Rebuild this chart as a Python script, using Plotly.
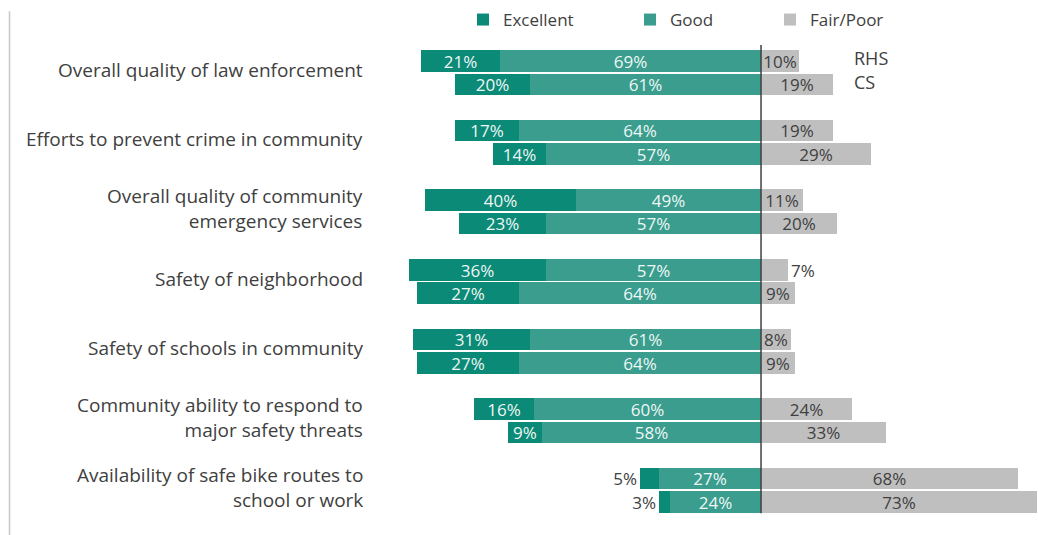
import plotly.graph_objects as go

categories = [
    "Overall quality of law enforcement",
    "Efforts to prevent crime in community",
    "Overall quality of community<br>emergency services",
    "Safety of neighborhood",
    "Safety of schools in community",
    "Community ability to respond to<br>major safety threats",
    "Availability of safe bike routes to<br>school or work",
]
series_names = ["RHS", "CS"]

excellent_rhs = [21, 17, 40, 36, 31, 16, 5]
good_rhs = [69, 64, 49, 57, 61, 60, 27]
fair_rhs = [10, 19, 11, 7, 8, 24, 68]

excellent_cs = [20, 14, 23, 27, 27, 9, 3]
good_cs = [61, 57, 57, 64, 64, 58, 24]
fair_cs = [19, 29, 20, 9, 9, 33, 73]

C_EXC = "#0b8a77"
C_GOOD = "#3a9d8e"
C_FAIR = "#bfbfbf"
TXT = "#404040"
FONT = "Open Sans"

W, H = 1038, 535
ML, MR, MT, MB = 383, 1, 35, 10
PW, PH = W - ML - MR, H - MT - MB

OFF = 0.169
BW = 0.31

n = len(categories)
y_rhs = [i - OFF for i in range(n)]
y_cs = [i + OFF for i in range(n)]

ys = y_rhs + y_cs
exc = excellent_rhs + excellent_cs
good = good_rhs + good_cs
fair = fair_rhs + fair_cs

def pct(v):
    return [f"{x}%" for x in v]

fig = go.Figure()

# Good first (closest to zero on negative side)
fig.add_trace(go.Bar(
    y=ys, x=[-v for v in good], orientation="h", name="Good",
    marker=dict(color=C_GOOD, line=dict(width=0)), width=BW,
    text=pct(good), textposition="inside", insidetextanchor="middle",
    insidetextfont=dict(color="#eef7f5", size=17, family=FONT),
    constraintext="none", legend="legend2", hoverinfo="skip",
))
fig.add_trace(go.Bar(
    y=ys, x=[-v for v in exc], orientation="h", name="Excellent",
    marker=dict(color=C_EXC, line=dict(width=0)), width=BW,
    text=pct(exc),
    textposition=["outside" if v < 8 else "inside" for v in exc],
    insidetextanchor="middle",
    insidetextfont=dict(color="#eef7f5", size=17, family=FONT),
    outsidetextfont=dict(color=TXT, size=17, family=FONT),
    constraintext="none", cliponaxis=False, legend="legend", hoverinfo="skip",
))
fig.add_trace(go.Bar(
    y=ys, x=fair, orientation="h", name="Fair/Poor",
    marker=dict(color=C_FAIR, line=dict(width=0)), width=BW,
    text=pct(fair),
    textposition=["outside" if v < 8 else "inside" for v in fair],
    insidetextanchor="middle",
    insidetextfont=dict(color=TXT, size=17, family=FONT),
    outsidetextfont=dict(color=TXT, size=17, family=FONT),
    constraintext="none", cliponaxis=False, legend="legend3", hoverinfo="skip",
))

annotations = []
for i, c in enumerate(categories):
    annotations.append(dict(
        x=0, xref="paper", y=i, yref="y", text=c, showarrow=False,
        xanchor="right", yanchor="middle", align="right", xshift=-18, yshift=3,
        font=dict(size=19, color=TXT, family=FONT),
    ))
for yy, s in zip([y_rhs[0], y_cs[0]], series_names):
    annotations.append(dict(
        x=24, xref="x", y=yy, yref="y", text=s, showarrow=False,
        xanchor="left", yanchor="middle", yshift=3,
        font=dict(size=18, color=TXT, family=FONT),
    ))

shapes = [
    dict(type="line", xref="x", yref="y", x0=0, x1=0, y0=-0.4, y1=6.33,
         line=dict(color="#404040", width=1.5), layer="above"),
    dict(type="line", xref="paper", yref="paper",
         x0=(9.5 - ML) / PW, x1=(9.5 - ML) / PW,
         y0=(H - MB - 8) / PH, y1=-MB / PH - 0.01,
         line=dict(color="#c8c8c8", width=1.5)),
]

leg_common = dict(orientation="h", xref="container", yref="container",
                  xanchor="left", yanchor="middle", bgcolor="rgba(0,0,0,0)",
                  font=dict(size=17, color=TXT, family=FONT),
                  itemwidth=30, borderwidth=0)

fig.update_layout(
    width=W, height=H,
    margin=dict(l=ML, r=MR, t=MT, b=MB),
    plot_bgcolor="white", paper_bgcolor="white",
    barmode="relative", bargap=0,
    xaxis=dict(range=[-100, 73], visible=False, fixedrange=True),
    yaxis=dict(range=[n - 0.5, -0.5], visible=False, fixedrange=True),
    showlegend=True,
    legend=dict(x=(465 - 2) / W, y=1 - 20 / H, **leg_common),
    legend2=dict(x=(632 - 2) / W, y=1 - 20 / H, **leg_common),
    legend3=dict(x=(772 - 2) / W, y=1 - 20 / H, **leg_common),
    annotations=annotations,
    shapes=shapes,
    font=dict(family=FONT, color=TXT),
)

fig.write_html("out.html", config={"displayModeBar": False},
               post_script="document.body.style.margin='0';")
